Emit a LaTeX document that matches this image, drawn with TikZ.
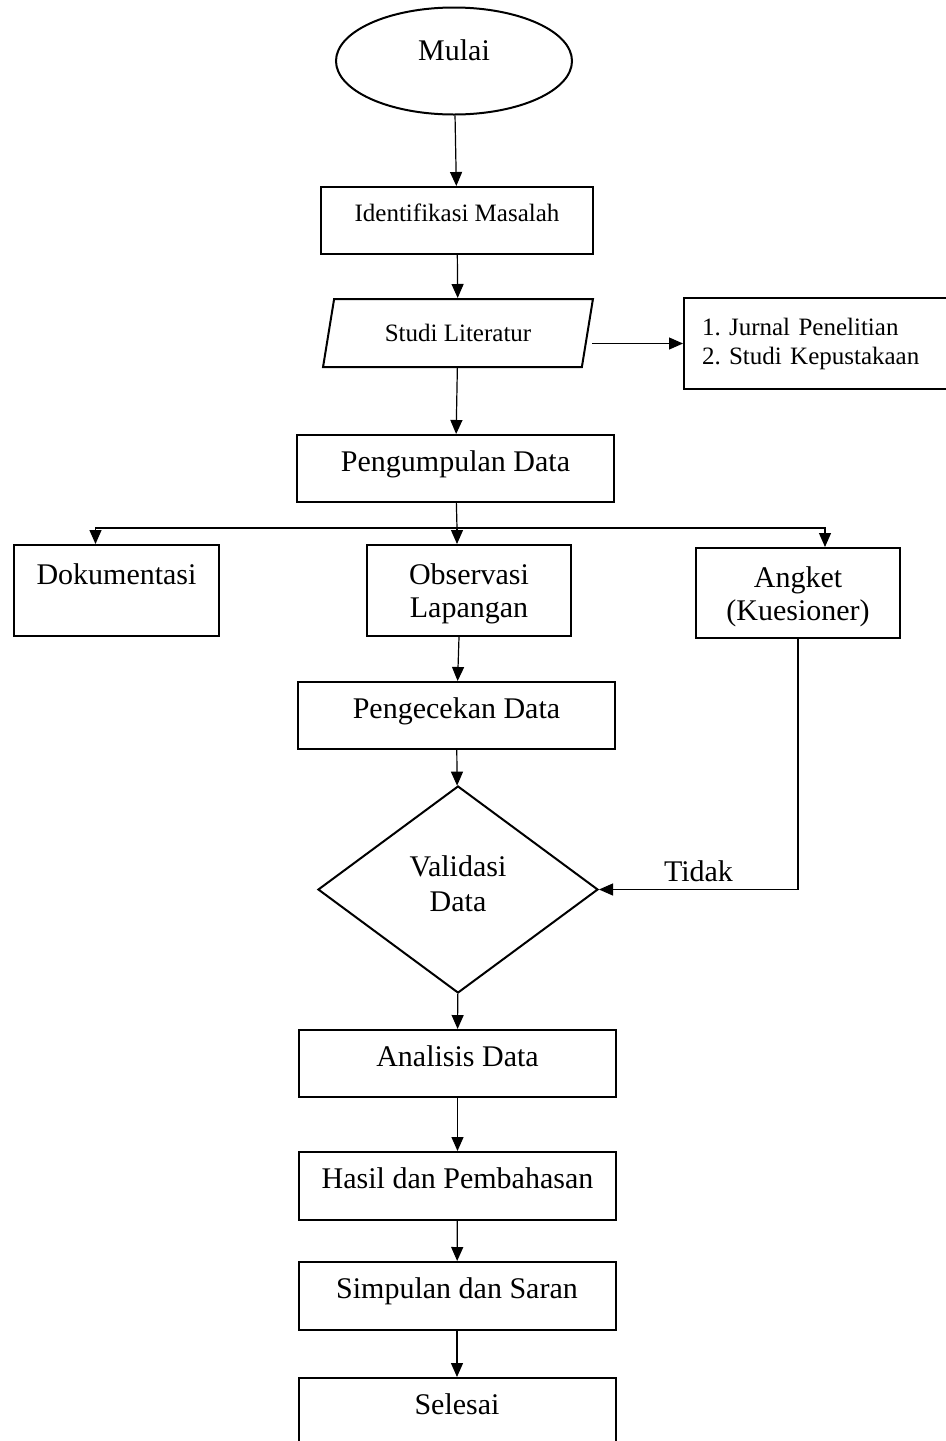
\documentclass[tikz,border=0pt]{standalone}
\usepackage{fontspec}
\setmainfont{Liberation Serif}
\usetikzlibrary{shapes.geometric,arrows.meta,positioning}
\newcommand{\besar}{\fontsize{15}{16.5}\selectfont}
\newcommand{\kecil}{\fontsize{12.5}{14.5}\selectfont}

\begin{document}
\begin{tikzpicture}[x=0.5pt, y=-0.5pt,
	box/.style={draw, line width=1pt, minimum width=158.5pt, minimum height=33.5pt, font=\besar, align=center, inner sep=0pt},
	satu/.style={text height=0.7em, text depth=0.45em},
	arr/.style={-{Triangle[length=7pt,width=6pt]}, line width=0.6pt}]
	\useasboundingbox (0,0) rectangle (946,1441);
	\clip (0,0) rectangle (946,1441);
	
	\node[draw, ellipse, line width=1pt, minimum width=118pt, minimum height=53.5pt, font=\besar, text depth=11pt] (mulai) at (454,61) {Mulai};
	\node[box, minimum width=136pt, font=\kecil, text height=0.7em, text depth=0.56em] (ident) at (457,220.5) {Identifikasi Masalah};
	\node[draw, trapezium, trapezium left angle=77, trapezium right angle=103, trapezium stretches=true, minimum width=136pt, minimum height=34pt, line width=1pt, font=\kecil] (studi) at (458,333) {Studi Literatur};
	\node[draw, line width=1pt, anchor=west, text width=136pt, inner xsep=9pt, minimum height=45.5pt, align=left, font=\kecil] (ref) at (683,343.5) {1.\ Jurnal Penelitian\\2.\ Studi Kepustakaan};
	\node[box, satu] (kumpul) at (455.5,468.5) {Pengumpulan Data};
	\node[box, minimum width=102.5pt, minimum height=45.5pt] (dok) at (116.5,590.5) {Dokumentasi\\\mbox{}};
	\node[box, minimum width=102pt, minimum height=45.5pt, text height=30.7pt] (obs) at (469,590.5) {Observasi\\Lapangan};
	\node[box, minimum width=102pt, minimum height=45pt, text height=30.7pt] (angket) at (798,593) {Angket\\(Kuesioner)};
	\node[box, satu] (cek) at (456.5,715.5) {Pengecekan Data};
	\node[draw, diamond, line width=1pt, minimum width=140pt, minimum height=103.5pt, font=\fontsize{15}{17.5}\selectfont, align=center, inner sep=0pt, text depth=6pt] (valid) at (458,889.5) {Validasi\\Data};
	\node[box, satu] (analisis) at (457.5,1063.5) {Analisis Data};
	\node[box, satu, minimum height=34pt] (hasil) at (457.5,1186) {Hasil dan Pembahasan};
	\node[box, satu, minimum height=34pt] (simpul) at (457,1296) {Simpulan dan Saran};
	\node[box, satu] (selesai) at (457,1411.5) {Selesai};
	
	\coordinate (cab) at (457,528);
	
	\draw[arr] (mulai) -- (ident);
	\draw[arr] (ident) -- (studi);
	\draw[arr] ([xshift=2pt]studi.east |- ref.west) -- (ref.west);
	\draw[arr] (studi) -- (kumpul);
	\draw[line width=0.6pt] (kumpul) -- (cab);
	\draw[arr] (cab) -| ([xshift=-10.5pt]dok.north);
	\draw[arr] (cab) -- (cab |- obs.north);
	\draw[arr] (cab) -| ([xshift=13.5pt]angket.north);
	\draw[arr] ([xshift=-5pt]obs.south) -- (cek);
	\draw[arr] (cek) -- (valid);
	\draw[arr] (angket) |- node[above, pos=0.75, font=\besar] {Tidak} (valid);
	\draw[arr] (valid) -- (analisis);
	\draw[arr] (analisis) -- (hasil);
	\draw[arr] (hasil) -- (simpul);
	\draw[arr] (simpul) -- (selesai);
\end{tikzpicture}
\end{document}
